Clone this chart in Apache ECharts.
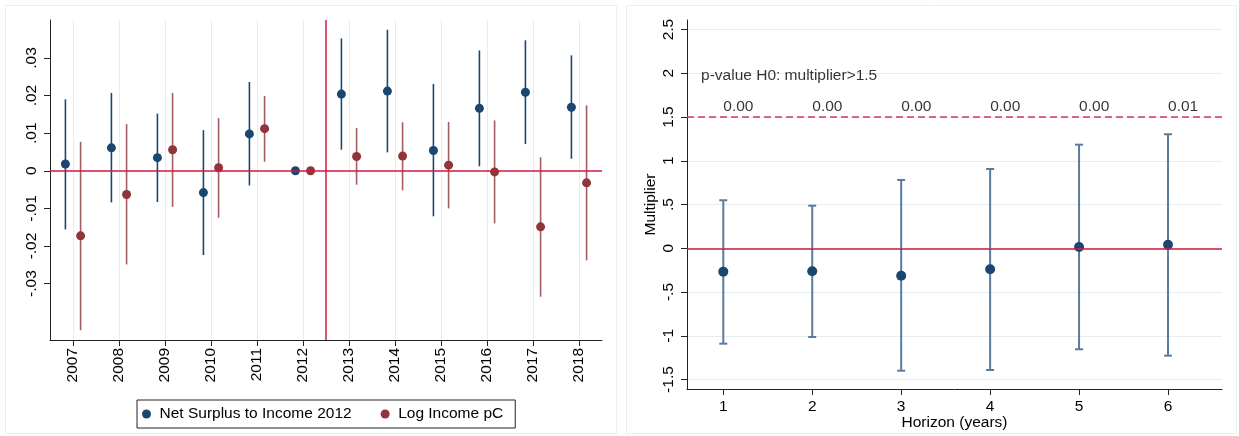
<!DOCTYPE html>
<html><head><meta charset="utf-8">
<script src="https://cdn.jsdelivr.net/npm/echarts@6/dist/echarts.min.js"></script>
<style>html,body{margin:0;padding:0;background:#fff}#c{width:1239px;height:436px}</style>
</head><body><div id="c"></div><script>
// ---- data ----
const years = [2007, 2008, 2009, 2010, 2011, 2012, 2013, 2014, 2015, 2016, 2017, 2018];
const surplus   = [0.0018, 0.0061, 0.0035, -0.0058, 0.0098, 0, 0.0204, 0.0212, 0.0054, 0.0166, 0.0209, 0.0169];
const surplusLo = [-0.0156, -0.0084, -0.0083, -0.0224, -0.0039, null, 0.0056, 0.0049, -0.0121, 0.0012, 0.0071, 0.0032];
const surplusHi = [0.0190, 0.0207, 0.0152, 0.0108, 0.0236, null, 0.0352, 0.0375, 0.0231, 0.0320, 0.0347, 0.0307];
const income    = [-0.0173, -0.0063, 0.0056, 0.0008, 0.0112, 0, 0.0038, 0.0039, 0.0015, -0.0003, -0.0149, -0.0032];
const incomeLo  = [-0.0424, -0.0249, -0.0096, -0.0125, 0.0024, null, -0.0037, -0.0052, -0.0100, -0.0140, -0.0335, -0.0238];
const incomeHi  = [0.0077, 0.0124, 0.0207, 0.0140, 0.0199, null, 0.0114, 0.0129, 0.0130, 0.0134, 0.0036, 0.0174];
const leftTicks = [-0.03, -0.02, -0.01, 0, 0.01, 0.02, 0.03];
const leftTickLabels = ['-.03', '-.02', '-.01', '0', '.01', '.02', '.03'];
const seriesNames = ['Net Surplus to Income 2012', 'Log Income pC'];

const horizons = [1, 2, 3, 4, 5, 6];
const mult   = [-0.267, -0.263, -0.313, -0.240, 0.015, 0.041];
const multLo = [-1.090, -1.014, -1.399, -1.391, -1.154, -1.227];
const multHi = [0.549, 0.487, 0.781, 0.906, 1.184, 1.303];
const pvals = ['0.00', '0.00', '0.00', '0.00', '0.00', '0.01'];
const pvalTitle = 'p-value H0: multiplier>1.5';
const threshold = 1.5;
const rightTicks = [-1.5, -1, -0.5, 0, 0.5, 1, 1.5, 2, 2.5];
const rightTickLabels = ['-1.5', '-1', '-.5', '0', '.5', '1', '1.5', '2', '2.5'];

// ---- styles ----
const FONT = 'Liberation Sans, Arial, Helvetica, sans-serif';
const FS = 15.5;
const NAVY = '#1a476f', MAROON = '#90353b', REF = '#d3173f', GRID = '#e5edee';
const OFF = 0.165;

function lab(ticks, labels) {
  return v => { const i = ticks.findIndex(t => Math.abs(t - v) < 1e-9); return i >= 0 ? labels[i] : ''; };
}
function errRender(color, width, cap) {
  return function (params, api) {
    const x = api.value(0);
    const p1 = api.coord([x, api.value(1)]), p2 = api.coord([x, api.value(2)]);
    const st = { stroke: color, lineWidth: width };
    const ch = [{ type: 'line', shape: { x1: p1[0], y1: p1[1], x2: p2[0], y2: p2[1] }, style: st }];
    if (cap) {
      ch.push({ type: 'line', shape: { x1: p1[0] - cap, y1: p1[1], x2: p1[0] + cap, y2: p1[1] }, style: st });
      ch.push({ type: 'line', shape: { x1: p2[0] - cap, y1: p2[1], x2: p2[0] + cap, y2: p2[1] }, style: st });
    }
    return { type: 'group', children: ch };
  };
}
function ci(xs, lo, hi, dx) {
  const out = [];
  xs.forEach((x, i) => { if (lo[i] != null) out.push([x + dx, lo[i], hi[i]]); });
  return out;
}
const axisCommon = {
  axisLine: { show: true, onZero: false, lineStyle: { color: '#222', width: 1 } },
  axisTick: { show: true, length: 6, lineStyle: { color: '#222' } },
  axisLabel: { color: '#000', fontSize: FS, fontFamily: FONT },
  nameTextStyle: { color: '#000', fontSize: FS, fontFamily: FONT }
};

const chart = echarts.init(document.getElementById('c'), null, { renderer: 'canvas' });
chart.setOption({
  animation: false,
  backgroundColor: '#fff',
  textStyle: { fontFamily: FONT },
  graphic: [
    { type: 'rect', shape: { x: 5.5, y: 5.5, width: 611, height: 428 }, style: { fill: 'none', stroke: '#eceff0', lineWidth: 1 }, silent: true },
    { type: 'rect', shape: { x: 626.5, y: 5.5, width: 610, height: 428 }, style: { fill: 'none', stroke: '#eceff0', lineWidth: 1 }, silent: true }
  ],
  grid: [
    { left: 50, top: 20, width: 552, height: 320, outerBoundsMode: 'none', containLabel: false },
    { left: 687, top: 20, width: 535, height: 369, outerBoundsMode: 'none', containLabel: false }
  ],
  legend: {
    data: seriesNames.map(n => ({ name: n, icon: 'circle' })),
    left: 137, top: 400, itemWidth: 16, itemHeight: 9, itemGap: 29,
    padding: [6, 12, 6, 5], borderColor: '#222', borderWidth: 1, borderRadius: 0,
    selectedMode: false,
    textStyle: { fontSize: FS, color: '#000', fontFamily: FONT }
  },
  xAxis: [
    Object.assign({}, axisCommon, {
      type: 'value', gridIndex: 0, min: 2006.5, max: 2018.5,
      axisTick: Object.assign({}, axisCommon.axisTick, { customValues: years }),
      axisLabel: Object.assign({}, axisCommon.axisLabel, { customValues: years, rotate: 90, margin: 8, formatter: v => String(v) }),
      splitLine: { show: true, lineStyle: { color: GRID, width: 1 } }
    }),
    Object.assign({}, axisCommon, {
      type: 'value', gridIndex: 1, min: 0.592, max: 6.607,
      name: 'Horizon (years)', nameLocation: 'middle', nameGap: 26, nameMoveOverlap: false,
      axisTick: Object.assign({}, axisCommon.axisTick, { customValues: horizons }),
      axisLabel: Object.assign({}, axisCommon.axisLabel, { customValues: horizons, margin: 10, formatter: v => String(v) }),
      splitLine: { show: false }
    })
  ],
  yAxis: [
    Object.assign({}, axisCommon, {
      type: 'value', gridIndex: 0, min: -0.045, max: 0.0401,
      axisTick: Object.assign({}, axisCommon.axisTick, { customValues: leftTicks }),
      axisLabel: Object.assign({}, axisCommon.axisLabel, { customValues: leftTicks, rotate: 90, margin: 10, formatter: lab(leftTicks, leftTickLabels) }),
      splitLine: { show: false }
    }),
    Object.assign({}, axisCommon, {
      type: 'value', gridIndex: 1, min: -1.608, max: 2.609,
      name: 'Multiplier', nameLocation: 'middle', nameGap: 28, nameRotate: 90, nameMoveOverlap: false,
      axisTick: Object.assign({}, axisCommon.axisTick, { customValues: rightTicks }),
      axisLabel: Object.assign({}, axisCommon.axisLabel, { customValues: rightTicks, rotate: 90, margin: 10, formatter: lab(rightTicks, rightTickLabels) }),
      splitLine: { show: true, lineStyle: { color: GRID, width: 1 } }
    })
  ],
  series: [
    { type: 'custom', xAxisIndex: 0, yAxisIndex: 0, z: 1, silent: true,
      renderItem: errRender(NAVY, 1.6, 0), data: ci(years, surplusLo, surplusHi, -OFF) },
    { type: 'custom', xAxisIndex: 0, yAxisIndex: 0, z: 1, silent: true,
      renderItem: errRender('rgba(144,53,59,0.8)', 1.6, 0), data: ci(years, incomeLo, incomeHi, OFF) },
    { type: 'scatter', xAxisIndex: 0, yAxisIndex: 0, z: 2, silent: true, data: [],
      markLine: { silent: true, symbol: 'none', label: { show: false },
        lineStyle: { color: REF, width: 1.5, type: 'solid' },
        data: [{ yAxis: 0 }, { xAxis: 2012.5 }] } },
    { type: 'scatter', name: seriesNames[0], xAxisIndex: 0, yAxisIndex: 0, z: 3, symbolSize: 9,
      itemStyle: { color: NAVY, opacity: 1 }, data: years.map((y, i) => [y - OFF, surplus[i]]) },
    { type: 'scatter', name: seriesNames[1], xAxisIndex: 0, yAxisIndex: 0, z: 3, symbolSize: 9,
      itemStyle: { color: MAROON, opacity: 1 }, data: years.map((y, i) => [y + OFF, income[i]]) },

    { type: 'custom', xAxisIndex: 1, yAxisIndex: 1, z: 1, silent: true,
      renderItem: errRender('#5a7b9b', 2, 4), data: ci(horizons, multLo, multHi, 0) },
    { type: 'scatter', xAxisIndex: 1, yAxisIndex: 1, z: 2, silent: true, data: [],
      markLine: { silent: true, symbol: 'none', label: { show: false },
        data: [
          { yAxis: 0, lineStyle: { color: REF, width: 1.5, type: 'solid' } },
          { yAxis: threshold, lineStyle: { color: '#c93a60', width: 1.5, type: [7, 4] } }
        ] } },
    { type: 'scatter', xAxisIndex: 1, yAxisIndex: 1, z: 3, symbolSize: 10, silent: true,
      itemStyle: { color: NAVY, opacity: 1 }, data: horizons.map((h, i) => [h, mult[i]]) },
    { type: 'scatter', xAxisIndex: 1, yAxisIndex: 1, z: 3, symbolSize: 0, silent: true,
      data: horizons.map((h, i) => [h + 0.17, 1.62]),
      label: { show: true, position: 'inside', color: '#000', fontSize: FS, fontFamily: FONT,
        formatter: p => pvals[p.dataIndex] } },
    { type: 'scatter', xAxisIndex: 1, yAxisIndex: 1, z: 3, symbolSize: 0, silent: true,
      data: [[0.75, 1.97]],
      label: { show: true, position: 'right', distance: 0, color: '#000', fontSize: FS, fontFamily: FONT,
        formatter: () => pvalTitle } }
  ]
});
</script></body></html>
